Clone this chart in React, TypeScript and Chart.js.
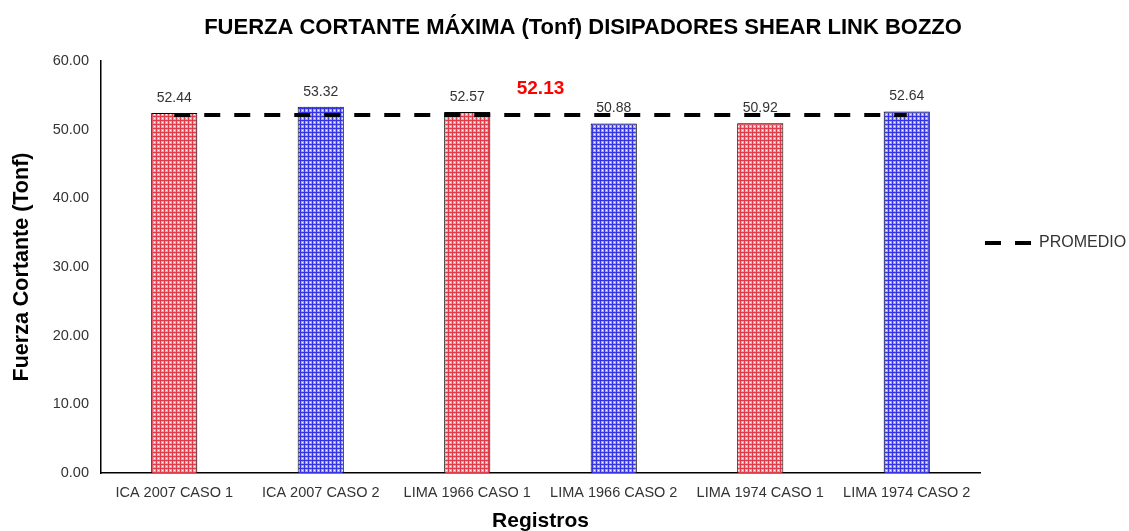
import React, { useEffect, useRef } from "react";
import { Chart, registerables } from "chart.js";

Chart.register(...registerables);

const categories = [
  "ICA 2007 CASO 1",
  "ICA 2007 CASO 2",
  "LIMA 1966 CASO 1",
  "LIMA 1966 CASO 2",
  "LIMA 1974 CASO 1",
  "LIMA 1974 CASO 2",
];
const shearValues = [52.44, 53.32, 52.57, 50.88, 50.92, 52.64];
const barKinds = ["red", "blue", "red", "blue", "red", "blue"];
const averageValue = 52.13;
const averageLine = categories.map(() => averageValue);
const yTicks = [0, 10, 20, 30, 40, 50, 60];

const TITLE = "FUERZA CORTANTE MÁXIMA (Tonf) DISIPADORES SHEAR LINK BOZZO";
const FONT = "'Liberation Sans', Arial, sans-serif";

function makePattern(line: string, bg: string): CanvasPattern | string {
  const c = document.createElement("canvas");
  c.width = 4;
  c.height = 4;
  const g = c.getContext("2d");
  if (!g) return line;
  g.fillStyle = bg;
  g.fillRect(0, 0, 4, 4);
  g.fillStyle = line;
  g.fillRect(0, 0, 4, 1);
  g.fillRect(0, 0, 1, 4);
  g.fillStyle = "#ffffff";
  g.fillRect(2, 2, 1, 1);
  const p = g.createPattern(c, "repeat");
  return p || line;
}

const textPlugin = {
  id: "customText",
  afterDatasetsDraw(chart: any) {
    const ctx = chart.ctx;
    const meta = chart.getDatasetMeta(0);
    ctx.save();
    ctx.fillStyle = "#333333";
    ctx.font = `14px ${FONT}`;
    ctx.textAlign = "center";
    ctx.textBaseline = "bottom";
    meta.data.forEach((el: any, i: number) => {
      ctx.fillText(shearValues[i].toFixed(2), el.x, el.y - 8);
    });
    const xs = chart.scales.x;
    const ys = chart.scales.y;
    const ax = (xs.getPixelForValue(2) + xs.getPixelForValue(3)) / 2;
    const ay = ys.getPixelForValue(averageValue) - 17;
    ctx.fillStyle = "#ff0000";
    ctx.font = `bold 19px ${FONT}`;
    ctx.textBaseline = "bottom";
    ctx.fillText(averageValue.toFixed(2), ax, ay);
    ctx.restore();
  },
  afterDraw(chart: any) {
    const ctx = chart.ctx;
    ctx.save();
    ctx.fillStyle = "#000000";
    ctx.font = `bold 22px ${FONT}`;
    ctx.textAlign = "center";
    ctx.textBaseline = "middle";
    ctx.fillText(TITLE, 583, 28);
    const ly = 243;
    ctx.strokeStyle = "#000000";
    ctx.lineWidth = 4;
    ctx.setLineDash([16, 14]);
    ctx.beginPath();
    ctx.moveTo(985, ly);
    ctx.lineTo(1033, ly);
    ctx.stroke();
    ctx.setLineDash([]);
    ctx.fillStyle = "#333333";
    ctx.font = `16px ${FONT}`;
    ctx.textAlign = "left";
    ctx.fillText("PROMEDIO", 1039, ly);
    ctx.restore();
  },
};

export default function App() {
  const ref = useRef<HTMLCanvasElement | null>(null);
  useEffect(() => {
    if (!ref.current) return;
    const redP = makePattern("#e23a48", "#f2a0a8");
    const blueP = makePattern("#3434e6", "#a0a0f2");
    const chart = new Chart(ref.current, {
      type: "bar",
      data: {
        labels: categories,
        datasets: [
          {
            type: "bar",
            label: "Fuerza",
            data: shearValues,
            backgroundColor: barKinds.map((k) => (k === "red" ? redP : blueP)),
            borderColor: "#000000",
            borderWidth: 1,
            categoryPercentage: 1,
            barPercentage: 0.315,
            order: 2,
          } as any,
          {
            type: "line",
            label: "PROMEDIO",
            data: averageLine,
            borderColor: "#000000",
            borderWidth: 4,
            borderDash: [16, 14],
            pointRadius: 0,
            fill: false,
            order: 1,
          } as any,
        ],
      },
      options: {
        animation: false,
        responsive: true,
        maintainAspectRatio: false,
        layout: { padding: { top: 61, right: 149, left: 0, bottom: 0 } },
        plugins: {
          legend: { display: false },
          title: { display: false },
          tooltip: { enabled: false },
        },
        scales: {
          x: {
            grid: { display: false, drawTicks: false },
            border: { display: true, color: "#000000", width: 1.5 },
            ticks: {
              color: "#333333",
              font: { family: FONT, size: 14.5 },
              padding: 11,
              maxRotation: 0,
              autoSkip: false,
            },
            title: {
              display: true,
              text: "Registros",
              color: "#000000",
              font: { family: FONT, size: 21, weight: "bold" },
              padding: { top: 0, bottom: -3 },
            },
            afterFit: (s: any) => {
              s.height = 58;
            },
          },
          y: {
            min: 0,
            max: 60,
            grid: { display: false, drawTicks: false },
            border: { display: true, color: "#000000", width: 1.5 },
            afterBuildTicks: (s: any) => {
              s.ticks = yTicks.map((v) => ({ value: v }));
            },
            ticks: {
              color: "#333333",
              font: { family: FONT, size: 14.5 },
              padding: 12,
              callback: (v: any) => Number(v).toFixed(2),
            },
            title: {
              display: true,
              text: "Fuerza Cortante (Tonf)",
              color: "#000000",
              font: { family: FONT, size: 21.5, weight: "bold" },
              padding: { top: 9, bottom: 0 },
            },
            afterFit: (s: any) => {
              s.width = 101;
            },
          },
        },
      },
      plugins: [textPlugin],
    });
    return () => chart.destroy();
  }, []);
  return (
    <div style={{ position: "fixed", left: 0, top: 0, width: 1129, height: 531, background: "#ffffff" }}>
      <canvas ref={ref} />
    </div>
  );
}
